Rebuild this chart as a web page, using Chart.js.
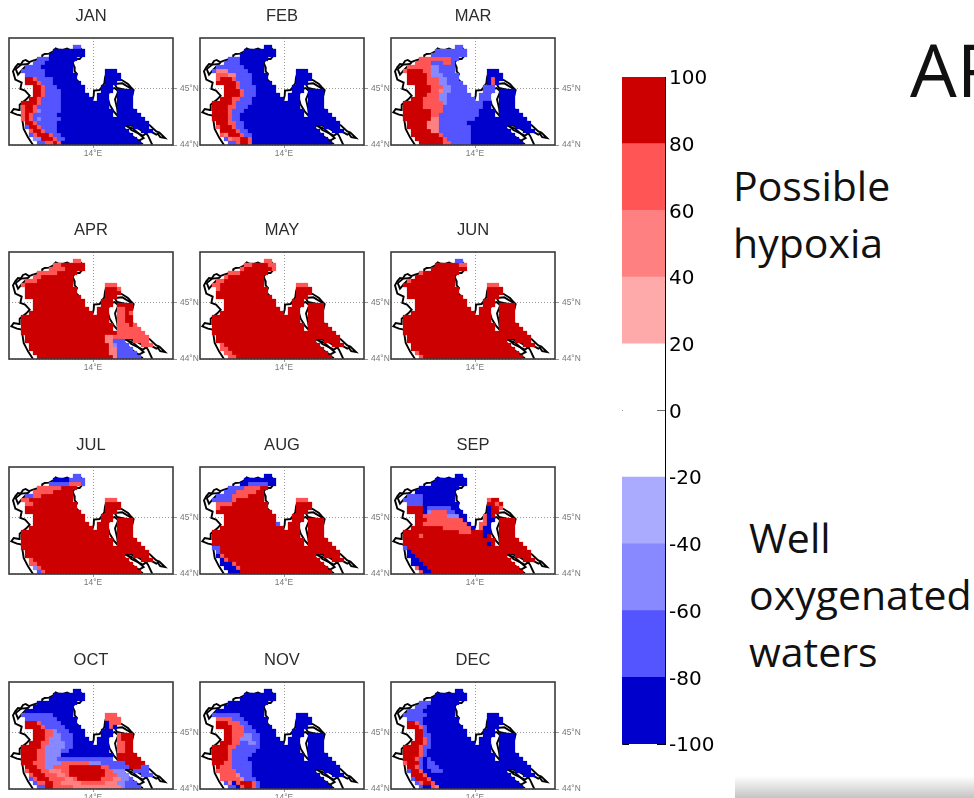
<!DOCTYPE html>
<html>
<head>
<meta charset="utf-8">
<title>Monthly hypoxia maps</title>
<script src="https://cdn.jsdelivr.net/npm/chart.js@4"></script>
<style>
  html, body { margin: 0; padding: 0; background: #fff; width: 974px; height: 798px; overflow: hidden; }
  canvas { position: absolute; filter: blur(0.5px); }
  .note { position: absolute; font-family: "Open Sans", "Noto Sans", sans-serif; color: #111; white-space: nowrap; }
  #shade { position: absolute; left: 735px; top: 776px; width: 239px; height: 22px; background: linear-gradient(#fff, #c4c4c4); }
</style>
</head>
<body>
<div id="shade"></div>
<div class="note" style="left:910px;top:18px;font-size:74px">AR</div>
<div class="note" style="left:733px;top:157px;font-size:41px;line-height:57px">Possible<br>hypoxia</div>
<div class="note" style="left:749px;top:509px;font-size:41px;line-height:57px">Well<br>oxygenated<br>waters</div>
<script>
// Months in reading order
const monthLabels = ['JAN', 'FEB', 'MAR', 'APR', 'MAY', 'JUN', 'JUL', 'AUG', 'SEP', 'OCT', 'NOV', 'DEC'];

// Model grid centres
const gridLons = [11.95, 12.05, 12.15, 12.25, 12.35, 12.45, 12.55, 12.65, 12.75, 12.85, 12.95, 13.05,
  13.15, 13.25, 13.35, 13.45, 13.55, 13.65, 13.75, 13.85, 13.95, 14.05, 14.15, 14.25,
  14.35, 14.45, 14.55, 14.65, 14.75, 14.85, 14.95, 15.05, 15.15, 15.25, 15.35, 15.45];
const gridLats = [45.75, 45.679, 45.607, 45.536, 45.464, 45.393, 45.321, 45.25, 45.179, 45.107, 45.036, 44.964,
  44.893, 44.821, 44.75, 44.679, 44.607, 44.536, 44.464, 44.393, 44.321, 44.25, 44.179, 44.107, 44.036];

// Which columns are sea on each latitude row
const seaRanges = ['16-17', '11-18', '10-18', '7-16', '6-15', '4-15', '3-15 24-26', '4-16 24-27', '4-16 24-27',
  '4-17 24-26', '6-18 23-25', '6-18 23-25 27-30', '6-19 22-24 27-30', '5-20 22-24 27-30', '3-24 27-30',
  '3-24 27-30', '3-25 27-31', '3-25 27-32', '3-33', '4-29 30-34', '4-28 31-34', '5-29 33-35', '5-30', '6-31', '7-32'];

// Class letter -> mid value (%) of the colour class
const classKeys = ['a', 'b', 'c', 'd', 'w', 'x', 'y', 'z'];
const classValues = [-90, -70, -50, -30, 30, 50, 70, 90];

// Each row: "startColumn+class" runs, from north to south
const janRows = ['0b', '0a', '0a', '0b 10a', '0b 9a', '0b 8a', '0b 9a', '0b 9a', '0z 6y 7b 11a', '0z 7y 8b 11a', '0z 8y 9b 12a',
  '0z 8y 9b 13a', '0z 8y 9b 13a', '0z 7y 8b 13a', '0y 3z 7y 8b 13a', '0y 4z 6y 7b 13a', '0y 4z 6y 7c 8b 13a', '0y 4z 5y 6b 12a',
  '0y 4z 5y 6b 7c 8b 13a', '0y 4z 6y 7b 12a', '0b 5z 7y 8b 12a', '0b 5y 6z 8y 9b 12a', '0b 6y 7z 10y 11b 13a', '0c 8z 11y 12b 14a', '0b 9y 11z 12y 13a'];
const febRows = ['0a', '0a', '0a', '0b 10a', '0b 10a', '0b 11a', '0b 4x 7b 12a', '0y 7x 9b 13a', '0y 5z 8y 9b 13a', '0z 9y 10b 13a', '0z 9y 10b 14a',
  '0z 10y 11b 14a', '0z 10y 11b 14a', '0z 8y 10b 13a', '0z 8y 9b 13a', '0z 7y 9b 12a', '0z 7y 8b 11a', '0z 7y 8b 10a',
  '0z 7y 8b 10a', '0z 7y 9b 11a', '0y 5z 8y 9b 11a', '0y 5z 9y 10b 12a', '0y 6x 7z 10y 11b 13a', '0b 7x 8y 10z 12y 13a', '0b 9y 10z 12y 13a'];
const marRows = ['0b', '0b', '0b', '0y 15b', '0y 10b 13y 15b', '0y 10c 12b', '0y 4z 8y 10c 12b 23a', '0y 4z 9y 10c 13b 23a', '0z 9y 12c 14b 23a 25y 26a',
  '0z 9y 12c 14b 23a 25y 26a', '0z 10y 13c 15b 26a', '0z 10y 12x 13c 15b 27a', '0z 9y 12c 14b 27a', '0z 8y 12c 14b 27a', '0z 8y 13c 14b 23a',
  '0z 8y 13b 23a', '0z 10y 13b 22a', '0z 10y 12b 22a', '0z 10x 12b 21a', '0z 9x 12b 19a', '0z 9x 12b 20a', '0z 10x 12b 20a', '0z 12y 13b 20a', '0z 13y 14b 20a', '0z 13y 15b 20a'];
const aprRows = ['0y', '0y 13z', '0y 14z', '0y 12z', '0y 8z', '0y 7z', '0y 4z 24y', '0z 27y', '0z', '0z', '0z', '0z', '0z 27y 29z', '0z 27y 29z 30y', '0z 27y 29z',
  '0z 27y 29z', '0z 27y 30z 31y', '0z 27y 32y', '0z 27y', '0z 24x 26y', '0z 24x 26b 31y', '0z 25x 26c 27b 33y', '0z 25x 27b', '0z 25x 27b', '0z 26x 27b'];
const mayRows = ['0y', '0y 13z 17y', '0y 11z 18y', '0y 10z', '0y 7z', '0y 6z', '0y 5z 24y', '0y 5z', '0z', '0z', '0z', '0z', '0z', '0z', '0z',
  '0z', '0z', '0z', '0z', '0z', '0z', '0y 6z', '0y 7z', '0y 8z', '0y 9z'];
const junRows = ['0b', '0y 11z 17y', '0y 9z', '0y 8z', '0y 6z', '0y 5z', '0z 24y', '0z', '0z', '0z', '0z', '0z', '0z', '0z', '0z',
  '0z', '0z', '0z', '0z', '0z', '0z', '0z', '0z', '0y 7z', '0y 8z'];
const julRows = ['0b', '0a 15b', '0b 15y 18b', '0y 13z', '0b 6y 11z', '0b 6y 8z', '0y 5z 24y', '0y 6z', '0z', '0z', '0z', '0z', '0z', '0z', '0z',
  '0z', '0z', '0z', '0z', '0z', '0z', '0y 6z', '0y 7z', '0c 7y 8z', '0b 8y 9z'];
const augRows = ['0a', '0a', '0a 12b 17a', '0b 11y 15z', '0a 6b 9y 14z', '0b 8y 12z', '0b 8y 9z 24y', '0y 8z', '0y 5z', '0z', '0z', '0z', '0z 19b 20z', '0z', '0z',
  '0z', '0z', '0z', '0b 5z', '0b 5z', '0a 5y 6z', '0a 6y 7z', '0a 8y 9z', '0a 9y 10z', '0a 10z'];
const sepRows = ['0a', '0a', '0a', '0a', '0a', '0b 8a', '0b 8a 24y 25z', '0c 3b 8a 24z 26y 27z', '0z 8a 9b 15a 24a 25z 27y', '0z 8a 9c 10y 14b 16a 24a 25z', '0z 8y 14c 17a 23y 24a 25z',
  '0z 9y 18a 23y 24a 27z', '0z 8y 19a 22y 24a 27z', '0z 13y 20a 22y 23a 27z', '0z 17y 20z 23a 27z', '0z 7y 8z 23a 24z', '0z', '0z 24a 25z', '0b 4z', '0a 5z', '0a 6z', '0y 5a 7z', '0a 8z', '0y 7a 9z', '0y 8a 10z'];
const octRows = ['0a', '0a', '0a', '0a', '0a', '0a', '0b 11a 24y', '0b 12a 24y', '0z 7y 8b 13a 24a 25y', '0z 8y 9b 14a 24a 25y 26a', '0z 9y 11c 12b 15a',
  '0z 9y 11c 13b 16a 27y 28z', '0z 9y 10c 13b 16a 27y 28z', '0z 8y 10c 14b 16a 27y 29z', '0z 8y 9c 14b 16a 27y 29z', '0z 7y 9c 13b 15a 27y 29z', '0z 7y 9c 13a 27z', '0z 7y 9c 12b 26a 27z',
  '0z 6y 9c 13y 20c 23b 27b 29z', '0z 7y 9c 11y 15z 23y 25b 30z 33b', '0y 5z 8y 10x 13y 15z 24y 26c 31b', '0y 6z 9y 12x 14y 15z 24y 27c 33b',
  '0b 6y 7z 10y 14x 16y 17z 23y 26x 28c 30b', '0b 7y 9z 11y 13x 18y 24x 27c 29b', '0b 9z 11y 16x 26x 28c 29b'];
const novRows = ['0a', '0a', '0a', '0a', '0a', '0a', '0b 10a', '0y 8b 11a', '0y 4z 7y 10b 12a', '0z 8y 11b 13a', '0z 8y 11b 14a',
  '0z 8y 11c 13b 15a', '0z 8y 10c 13b 15a', '0z 8y 10b 12c 14b 15a', '0z 7y 9b 15a', '0z 7y 8b 14a', '0z 7y 8b 13a', '0z 7y 8b 12a',
  '0z 6y 8b 13a', '0z 5y 8b 13a', '0y 9b 13a', '0b 5y 9x 10b 13a', '0y 10x 11b 14a', '0b 7x 8a 9y 10z 13y 14b 15a', '0b 9a 10y 11z 13y 14b 15a'];
const decRows = ['0a', '0a', '0a', '0b 10a', '0b 9a', '0b 8a', '0b 9a', '0b 8a', '0z 6y 7b 8a', '0z 7y 8b 9a', '0z 8b 9a',
  '0z 8b 10a', '0z 8y 9b 10a', '0z 8y 9b 10a', '0z 7y 8b 10a', '0z 7y 8b 9a', '0z 7y 8b 9a', '0z 6y 7b 8a 9b 10a',
  '0y 4z 7b 8a 9b 11a', '0b 4z 6y 7b 8a 9b 12a', '0b 5z 7y 8a 10b 13a', '0b 5z 8y 9a', '0b 6z 9y 10a', '0b 7y 8z 10y 11a', '0b 8a 10y 11x 12a'];
const monthRows = [janRows, febRows, marRows, aprRows, mayRows, junRows, julRows, augRows, sepRows, octRows, novRows, decRows];

// Coastline, lon/lat
const coastMain = [[12.5, 44], [12.375, 44.137], [12.267, 44.286], [12.217, 44.524], [12.1, 44.542], [11.958, 44.583], [12.017, 44.643], [12.15, 44.625],
  [12.167, 44.72], [12.333, 44.815], [12.417, 44.881], [12.3, 44.97], [12.183, 45], [12.217, 45.113], [12.058, 45.167], [12, 45.315], [12.06, 45.39], [12.125, 45.446],
  [12.2, 45.44], [12.25, 45.5], [12.317, 45.518], [12.4, 45.48], [12.5, 45.506], [12.62, 45.53], [12.75, 45.542], [12.73, 45.6], [12.792, 45.625], [12.9, 45.63],
  [13, 45.667], [13.067, 45.726], [13.15, 45.7], [13.25, 45.696], [13.35, 45.72], [13.458, 45.685], [13.55, 45.7], [13.65, 45.756], [13.72, 45.7], [13.767, 45.625],
  [13.72, 45.58], [13.667, 45.536], [13.56, 45.54], [13.492, 45.47], [13.53, 45.4], [13.542, 45.315], [13.6, 45.27], [13.56, 45.2], [13.575, 45.173], [13.65, 45.12],
  [13.62, 45.08], [13.667, 45.03], [13.72, 44.97], [13.75, 44.911], [13.83, 44.84], [13.875, 44.762], [13.967, 44.756], [14.017, 44.881], [14.025, 44.97],
  [14.167, 44.982], [14.283, 45.101], [14.3, 45.2], [14.35, 45.327], [14.542, 45.339], [14.633, 45.179], [14.72, 45.16], [14.875, 45.089], [14.95, 45.03],
  [15.017, 44.982], [14.983, 44.881], [14.92, 44.85], [14.875, 44.792], [14.93, 44.72], [14.958, 44.661], [15.05, 44.6], [15.15, 44.506], [15.2, 44.47],
  [15.333, 44.375], [15.42, 44.35], [15.583, 44.244], [15.66, 44.22], [15.8, 44.125], [15.68, 44.14], [15.62, 44.2], [15.583, 44.185], [15.45, 44.24],
  [15.333, 44.286], [15.208, 44.327], [15.375, 44.167], [15.483, 44]];
const coastCres = [[14.458, 45], [14.35, 44.881], [14.417, 44.72], [14.517, 44.601], [14.633, 44.506], [14.6, 44.661], [14.55, 44.815], [14.633, 44.958], [14.542, 45.018], [14.458, 45]];
const coastKrk = [[14.542, 45.089], [14.733, 45.101], [14.967, 45], [14.967, 44.887], [14.817, 44.982], [14.6, 45.018], [14.542, 45.089]];
const coastLosinj = [[14.267, 44.673], [14.383, 44.661], [14.35, 44.482], [14.267, 44.524], [14.267, 44.673]];
const coastPag = [[14.733, 44.363], [15, 44.292], [15.267, 44.125], [15.15, 44.077], [14.958, 44.167], [14.792, 44.286], [14.733, 44.363]];
const coastDugi = [[14.983, 44.107], [15.25, 44.018]];
const coastRab = [[14.767, 44.792], [14.933, 44.643], [14.875, 44.554], [14.708, 44.685], [14.767, 44.792]];
const coastMolat = [[14.792, 44.387], [15.083, 44.315], [15.333, 44.208], [15.25, 44.167], [14.958, 44.268], [14.792, 44.387]];
const coastLagoon = [[12.067, 45.357], [12.208, 45.435], [12.375, 45.446], [12.25, 45.357], [12.125, 45.256], [12.067, 45.357]];
const coastLines = [coastMain, coastCres, coastKrk, coastLosinj, coastPag, coastDugi, coastRab, coastMolat, coastLagoon];

// Colour bar
const barTicks = [-100, -80, -60, -40, -20, 0, 20, 40, 60, 80, 100];
const barLow = [-100, -80, -60, -40, -20, 0, 20, 40, 60, 80];
const barColors = ['#0000cc', '#5555ff', '#8888ff', '#aaaaff', '#ffffff', '#ffffff', '#ffaaaa', '#ff8080', '#ff5555', '#cc0000'];
const classColors = ['#0000cc', '#5555ff', '#8888ff', '#aaaaff', '#ffaaaa', '#ff8080', '#ff5555', '#cc0000'];

// Frame placement on the page
const frameLefts = [9, 200, 391];
const frameTops = [38, 252, 467, 682];
const frameWidth = 164, frameHeight = 107, sideRoom = 30;

function buildCells(rows, classKey) {
    const cells = [];
    rows.forEach((row, r) => {
        const runs = row.split(' ').map(t => ({ start: parseInt(t), key: t.slice(-1) }));
        seaRanges[r].split(' ').forEach(range => {
            const [from, to] = range.split('-').map(Number);
            for (let c = from; c <= to; c++) {
                const run = runs.filter(u => u.start <= c).pop();
                if (run.key === classKey) cells.push({ x: gridLons[c], y: gridLats[r], v: classValues[classKeys.indexOf(classKey)] });
            }
        });
    });
    return cells;
}

// Draws the box round each map
const framePlugin = {
    id: 'frame',
    afterDatasetsDraw(chart) {
        const a = chart.chartArea, ctx = chart.ctx;
        ctx.save();
        ctx.strokeStyle = '#3a3a3a';
        ctx.lineWidth = 1.6;
        ctx.strokeRect(a.left, a.top, a.right - a.left, a.bottom - a.top);
        ctx.restore();
    }
};

function drawPanel(index) {
    const canvas = document.createElement('canvas');
    canvas.width = frameWidth + sideRoom * 2;
    canvas.height = frameHeight + 34 + 16;
    document.body.appendChild(canvas);

    const datasets = classKeys.map((key, i) => ({
        label: String(classValues[i]),
        data: buildCells(monthRows[index], key),
        pointStyle: 'rect',
        pointRadius: 3,
        pointBorderWidth: 0,
        backgroundColor: classColors[i],
        showLine: false
    }));
    coastLines.forEach(line => datasets.push({
        data: line.map(p => ({ x: p[0], y: p[1] })),
        showLine: true,
        pointRadius: 0,
        borderColor: '#000',
        borderWidth: 1.9,
        tension: 0
    }));

    const tickFont = { family: 'Liberation Sans', size: 8.4 };
    const chart = new Chart(canvas, {
        type: 'scatter',
        data: { datasets },
        options: {
            responsive: false,
            animation: false,
            layout: { padding: { left: sideRoom } },
            plugins: {
                legend: { display: false },
                tooltip: { enabled: false },
                title: {
                    display: true,
                    fullSize: false,
                    text: monthLabels[index],
                    color: '#2c2c2c',
                    font: { family: 'Liberation Sans', size: 16.5, lineHeight: '16px', weight: 'normal' },
                    padding: { top: 4, bottom: 14 }
                }
            },
            scales: {
                x: {
                    type: 'linear', min: 11.9, max: 16,
                    afterBuildTicks: s => { s.ticks = [{ value: 14 }]; },
                    afterFit: s => { s.height = 16; },
                    border: { display: false, dash: [1, 2] },
                    grid: { color: '#999', tickLength: 3 },
                    ticks: { color: '#777', font: tickFont, padding: 1, callback: v => v + '°E', maxRotation: 0 }
                },
                y: {
                    type: 'linear', position: 'right', min: 44, max: 45.91,
                    afterBuildTicks: s => { s.ticks = [{ value: 44 }, { value: 45 }]; },
                    afterFit: s => { s.width = sideRoom; },
                    border: { display: false, dash: [1, 2] },
                    grid: { color: '#999', tickLength: 4 },
                    ticks: { color: '#777', font: tickFont, padding: 3, callback: v => v + '°N' }
                }
            }
        },
        plugins: [framePlugin]
    });

    const col = index % 3, row = Math.floor(index / 3);
    canvas.style.left = (frameLefts[col] - chart.chartArea.left) + 'px';
    canvas.style.top = (frameTops[row] - chart.chartArea.top) + 'px';
}

function drawColourBar() {
    const canvas = document.createElement('canvas');
    canvas.width = 43 + 70;
    canvas.height = 667 + 24;
    canvas.style.left = '622px';
    canvas.style.top = '65px';
    document.body.appendChild(canvas);

    new Chart(canvas, {
        type: 'bar',
        data: {
            labels: [''],
            datasets: barLow.map((low, i) => ({
                data: [[low, barTicks[i + 1]]],
                backgroundColor: barColors[i],
                borderWidth: 0,
                barPercentage: 1,
                categoryPercentage: 1,
                grouped: false
            }))
        },
        options: {
            responsive: false,
            animation: false,
            layout: { padding: { top: 1, bottom: 1 } },
            plugins: { legend: { display: false }, tooltip: { enabled: false } },
            scales: {
                x: { display: false },
                y: {
                    position: 'right', min: -100, max: 100,
                    afterBuildTicks: s => { s.ticks = barTicks.map(v => ({ value: v })); },
                    afterFit: s => { s.width = 70; s.paddingTop = 12; s.paddingBottom = 12; },
                    border: { color: '#000', width: 1 },
                    grid: { drawOnChartArea: false, color: '#000', tickLength: -8 },
                    ticks: { color: '#000', padding: 12, labelOffset: 2, font: { family: 'DejaVu Sans', size: 20 } }
                },
                yLeft: {
                    position: 'left', min: -100, max: 100,
                    afterBuildTicks: s => { s.ticks = barTicks.filter(v => v !== 0).map(v => ({ value: v })); },
                    afterFit: s => { s.width = 0; },
                    border: { color: '#444', width: 1 },
                    grid: { drawOnChartArea: false, color: '#000', tickLength: -7 },
                    ticks: { display: false }
                }
            }
        }
    });
}

monthLabels.forEach((m, i) => drawPanel(i));
drawColourBar();
</script>
</body>
</html>
